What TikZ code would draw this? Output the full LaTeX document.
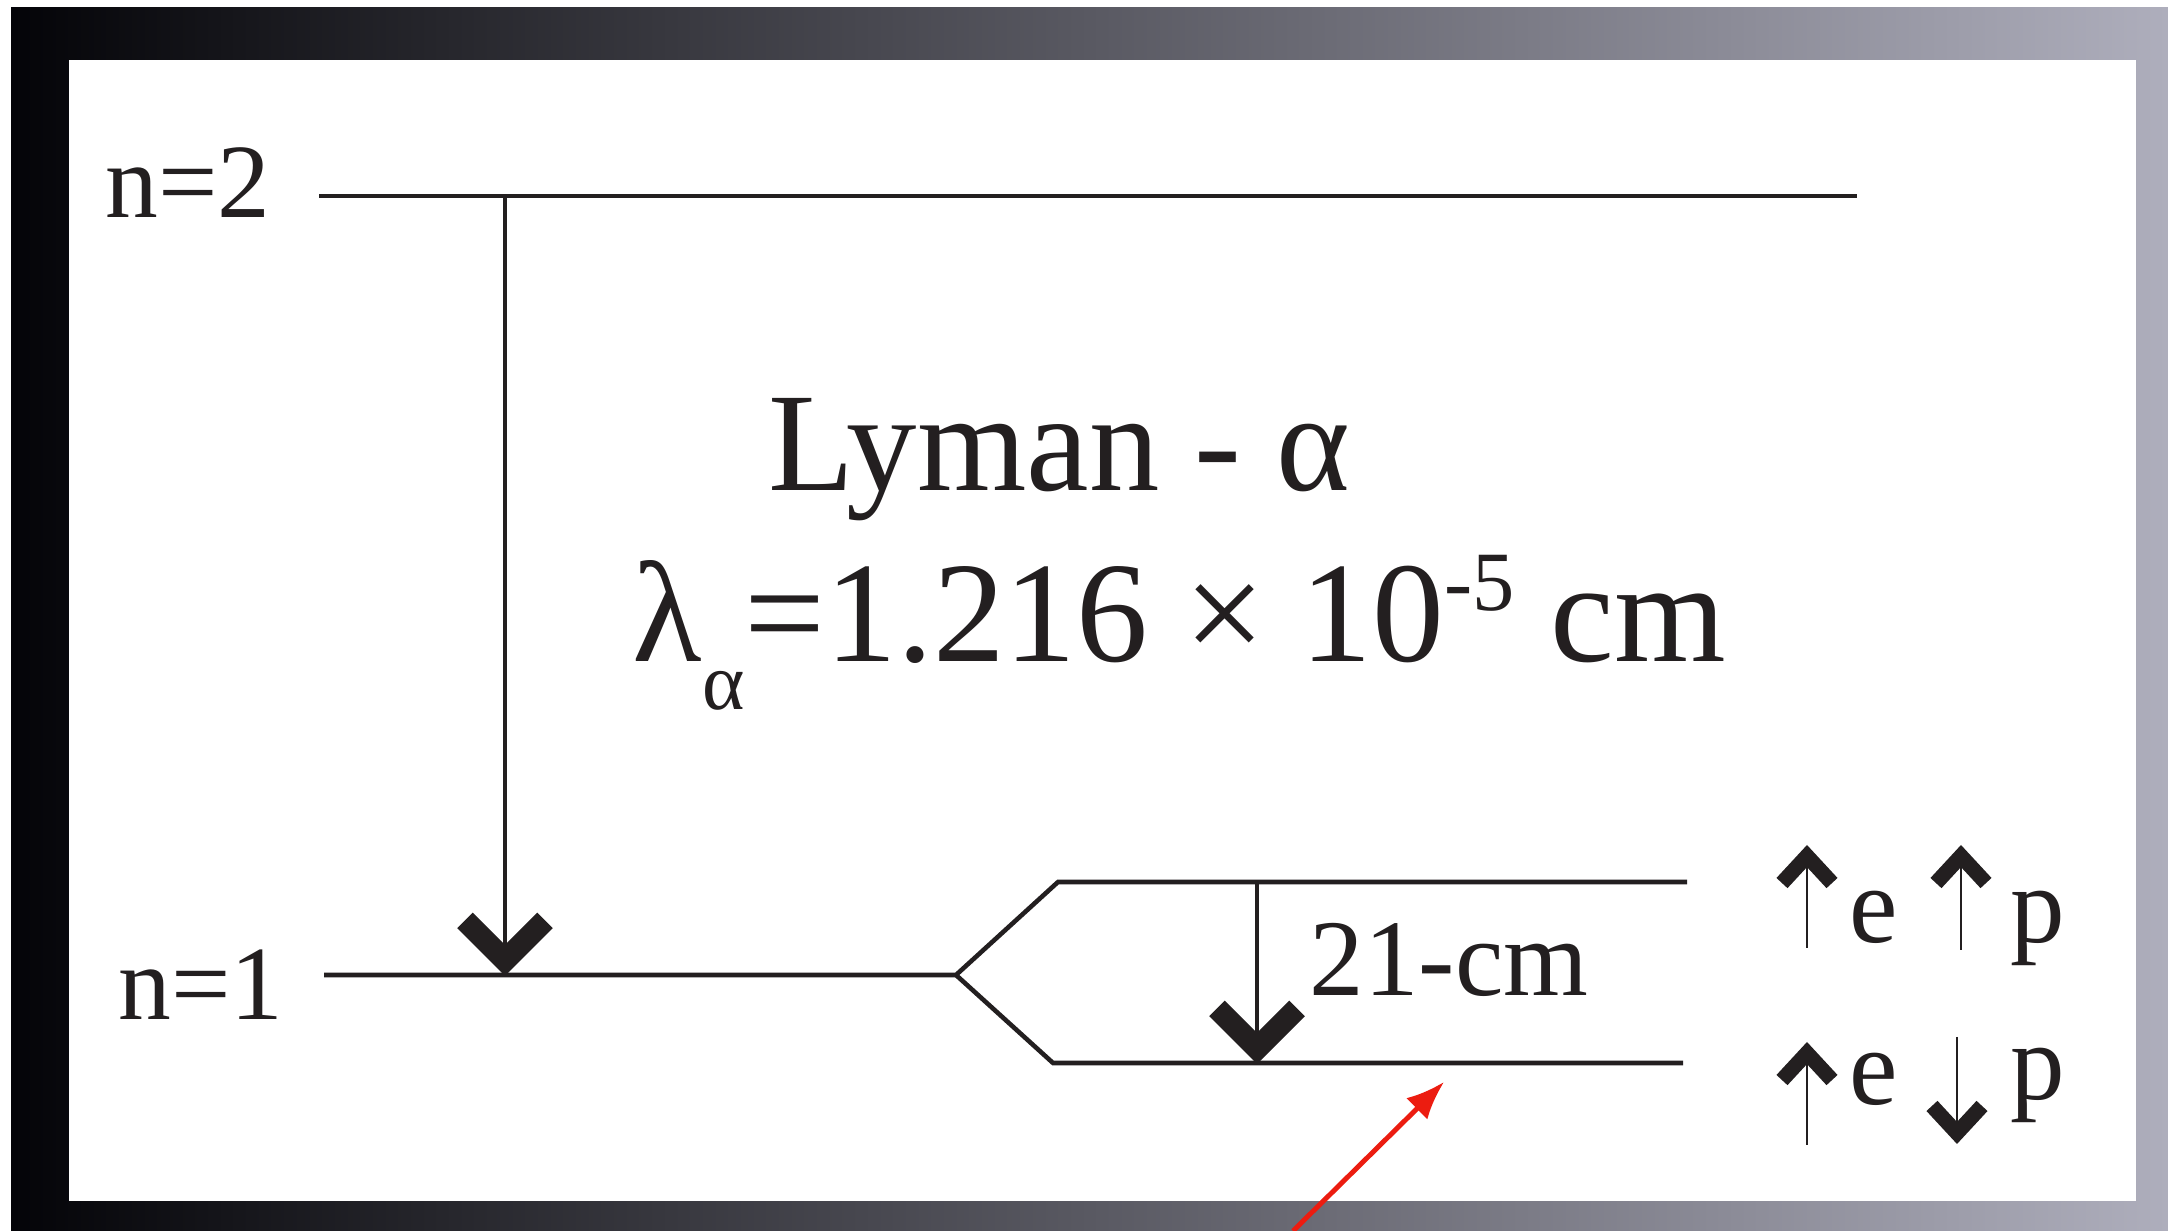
\documentclass[tikz,border=0pt]{standalone}
\usepackage{fontspec}
\setmainfont{Liberation Serif}
\usepackage{tikz}
\usetikzlibrary{arrows.meta}

\definecolor{ink}{RGB}{35,31,32}
\definecolor{frameL}{RGB}{4,4,8}
\definecolor{frameR}{RGB}{174,174,188}
\definecolor{pointer}{RGB}{236,28,16}

\begin{document}
\begin{tikzpicture}[
  x=0.01cm, y=-0.01cm,
  level/.style={draw=ink, line width=1.3pt},
  trans/.style={draw=ink, line width=0.9pt, -{Straight Barb[length=4mm, width=8mm, line width=2.2mm]}},
  spin/.style={draw=ink, line width=0.8pt, -{Straight Barb[length=2.7mm, width=5mm, line width=1.5mm]}},
  lbl/.style={inner sep=0pt, anchor=base west, text=ink, font=\fontsize{31}{36}\selectfont},
  big/.style={inner sep=0pt, anchor=base west, text=ink, font=\fontsize{40}{48}\selectfont},
  hint/.style={draw=pointer, line width=1.4pt, -{Latex[length=3.8mm, width=3mm]}}
]
  % slide frame
  \useasboundingbox (0,0) rectangle (2168,1231);
  \shade[left color=frameL, right color=frameR] (11,8) rectangle (2168,1231);
  \fill[white] (69,60) rectangle (2136,1201);

  % levels
  \coordinate (n2a) at (319,196);
  \coordinate (n2b) at (1857,196);
  \coordinate (n1a) at (324,975);
  \coordinate (split) at (956,975);
  \coordinate (hiA) at (1058,882);
  \coordinate (hiB) at (1687,882);
  \coordinate (loA) at (1053,1063);
  \coordinate (loB) at (1683,1063);
  \draw[level] (n2a) -- (n2b);
  \draw[level] (n1a) -- (split) -- (hiA) -- (hiB);
  \draw[level] (split) -- (loA) -- (loB);

  \node[lbl, font=\fontsize{30}{36}\selectfont] (n2lbl) at (105,218) {n=2};
  \node[lbl, font=\fontsize{30}{36}\selectfont] (n1lbl) at (118,1020) {n=1};

  % transitions
  \coordinate (lyTop) at (505,196);
  \coordinate (lyEnd) at (505,976);
  \coordinate (hfTop) at (1257,882);
  \coordinate (hfEnd) at (1257,1064);
  \draw[trans] (lyTop) -- (lyEnd);
  \draw[trans] (hfTop) -- (hfEnd);

  \node[big] (lyman) at (768,491) {Lyman - α};
  \node[big, font=\fontsize{40.8}{48}\selectfont] (lambda) at (632,662) {λ\raisebox{-0.33em}{\fontsize{23}{26}\selectfont α}=1.216 × 10\raisebox{0.36em}{\fontsize{24}{26}\selectfont -5} cm};
  \node[lbl] (hflbl) at (1309,996) {21-cm};

  % spins
  \node[lbl] (eUp) at (1849,943) {e};
  \node[lbl] (pUp) at (2010,943) {p};
  \node[lbl] (eDn) at (1849,1105) {e};
  \node[lbl] (pDn) at (2010,1100) {p};
  \coordinate (s1a) at (1807,948);  \coordinate (s1b) at (1807,845);
  \coordinate (s2a) at (1961,950);  \coordinate (s2b) at (1961,845);
  \coordinate (s3a) at (1807,1145); \coordinate (s3b) at (1807,1042);
  \coordinate (s4a) at (1957,1037); \coordinate (s4b) at (1957,1144);
  \draw[spin] (s1a) -- (s1b);
  \draw[spin] (s2a) -- (s2b);
  \draw[spin] (s3a) -- (s3b);
  \draw[spin] (s4a) -- (s4b);

  % red pointer
  \coordinate (hintFoot) at (1293,1231);
  \coordinate (hintTip) at (1444,1082);
  \draw[hint] (hintFoot) -- (hintTip);
\end{tikzpicture}
\end{document}
